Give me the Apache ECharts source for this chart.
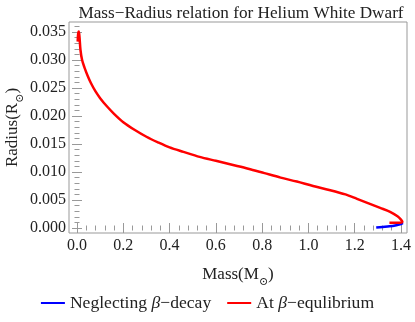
<!DOCTYPE html>
<html><head><meta charset="utf-8">
<script src="https://cdn.jsdelivr.net/npm/echarts@6/dist/echarts.min.js"></script>
<style>html,body{margin:0;padding:0;background:#fff}#c{width:415px;height:322px}</style>
</head><body><div id="c"></div>
<script>
const xTicks = [0.0, 0.2, 0.4, 0.6, 0.8, 1.0, 1.2, 1.4];
const yTicks = [0.000, 0.005, 0.010, 0.015, 0.020, 0.025, 0.030, 0.035];
const xMinor = [-0.04,0.04,0.08,0.12,0.16,0.24,0.28,0.32,0.36,0.44,0.48,0.52,0.56,0.64,0.68,0.72,0.76,0.84,0.88,0.92,0.96,1.04,1.08,1.12,1.16,1.24,1.28,1.32,1.36,1.44];
const yMinor = [0.001,0.002,0.003,0.004,0.006,0.007,0.008,0.009,0.011,0.012,0.013,0.014,0.016,0.017,0.018,0.019,0.021,0.022,0.023,0.024,0.026,0.027,0.028,0.029,0.031,0.032,0.033,0.034,0.036];
const neglecting = [[1.293,0.0001],[1.32,0.0002],[1.35,0.0003],[1.38,0.0005],[1.40,0.0007],[1.408,0.0009]];
const equilibrium = [[0.003,0.0333],[0.005,0.0347],[0.008,0.0351],[0.011,0.0340],[0.015,0.0318],[0.022,0.0300],[0.032,0.0287],[0.045,0.0273],[0.06,0.0259],[0.08,0.0244],[0.1,0.0232],[0.13,0.0217],[0.16,0.0204],[0.2,0.0189],[0.25,0.0175],[0.3,0.0163],[0.35,0.0153],[0.4,0.0144],[0.46,0.0136],[0.53,0.0127],[0.6,0.0120],[0.67,0.0113],[0.74,0.0106],[0.81,0.0098],[0.88,0.0090],[0.95,0.0083],[1.02,0.0075],[1.09,0.0068],[1.16,0.0060],[1.21,0.0052],[1.26,0.0044],[1.31,0.0036],[1.353,0.0029],[1.385,0.0021],[1.40,0.0015],[1.406,0.0011],[1.395,0.00095],[1.35,0.00095]];

const XMIN=-0.0346, XMAX=1.426, YMIN=-0.00089, YMAX=0.0368;
const serif = '"Liberation Serif","DejaVu Serif",serif';
const frame = '#999';
const subRich = {n:{fontFamily:serif,fontSize:17,color:'#222'},s:{fontFamily:serif,fontSize:11,color:'#222',verticalAlign:'bottom',padding:[0,0,-5,0]}};

function xAx(pos, vals, len, labels){
  return {type:'value',position:pos,min:XMIN,max:XMAX,
    axisLine:{show:false},splitLine:{show:false},
    axisTick:{show:true,inside:true,length:len,customValues:vals,lineStyle:{color:frame}},
    axisLabel:{show:labels,customValues:vals,fontFamily:serif,fontSize:16,color:'#222',margin:5,formatter:v=>v.toFixed(1)}};
}
function yAx(pos, vals, len, labels){
  return {type:'value',position:pos,min:YMIN,max:YMAX,
    axisLine:{show:false},splitLine:{show:false},
    axisTick:{show:true,inside:true,length:len,customValues:vals,lineStyle:{color:frame}},
    axisLabel:{show:labels,customValues:vals,fontFamily:serif,fontSize:16,color:'#222',margin:3,formatter:v=>v.toFixed(3)}};
}
const xa0 = xAx('bottom', xTicks, 5, true);
xa0.name='{n|Mass(M}{s|⊙}{n|)}'; xa0.nameLocation='middle'; xa0.nameGap=33; xa0.nameTextStyle={rich:subRich}; xa0.nameMoveOverlap=false;
const ya0 = yAx('left', yTicks, 5, true);
ya0.name='{n|Radius(R}{s|⊙}{n|)}'; ya0.nameLocation='middle'; ya0.nameGap=48; ya0.nameTextStyle={rich:subRich}; ya0.nameMoveOverlap=false;

const chart = echarts.init(document.getElementById('c'),null,{renderer:'canvas'});
chart.setOption({
  animation:false,
  title:{text:'Mass\u2212Radius relation for Helium White Dwarf',left:236,textAlign:'center',top:0,
    textStyle:{fontFamily:serif,fontSize:17.2,fontWeight:'normal',color:'#222'}},
  grid:{left:69,right:8,top:22,bottom:89,show:true,borderColor:frame,borderWidth:1,backgroundColor:'transparent',outerBoundsMode:'none',containLabel:false},
  xAxis:[xa0, xAx('bottom', xMinor, 2.5, false), xAx('top', xTicks, 5, false), xAx('top', xMinor, 2.5, false)],
  yAxis:[ya0, yAx('left', yMinor, 2.5, false), yAx('right', yTicks, 5, false), yAx('right', yMinor, 2.5, false)],
  legend:{bottom:5,left:'center',itemWidth:24,itemHeight:2,itemGap:16,icon:'rect',
    textStyle:{fontFamily:serif,fontSize:17.6,color:'#222',
      rich:{n:{fontFamily:serif,fontSize:17.6,color:'#222'},i:{fontFamily:serif,fontSize:17.6,fontStyle:'italic',color:'#222'}}},
    formatter:function(name){ return name==='Neglecting'?'{n|Neglecting }{i|β}{n|\u2212decay}':'{n|At }{i|β}{n|\u2212equlibrium}'; },
    data:['Neglecting','At']},
  series:[
    {name:'Neglecting',type:'line',data:neglecting,xAxisIndex:0,yAxisIndex:0,showSymbol:false,smooth:0.3,
      lineStyle:{color:'#0000ff',width:2.5},itemStyle:{color:'#0000ff'},z:3},
    {name:'At',type:'line',data:equilibrium,xAxisIndex:0,yAxisIndex:0,showSymbol:false,smooth:0.3,
      lineStyle:{color:'#ff0000',width:2.5},itemStyle:{color:'#ff0000'},z:4}
  ]
});
</script></body></html>
